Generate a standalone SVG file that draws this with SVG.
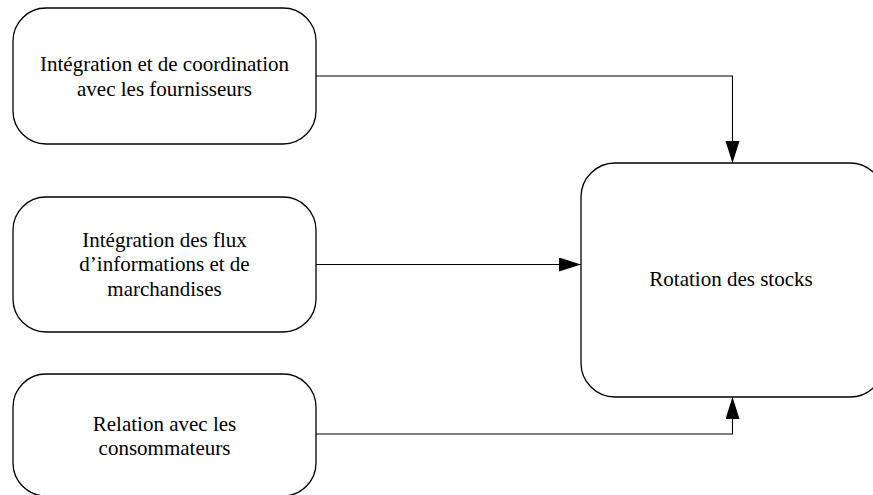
<svg xmlns="http://www.w3.org/2000/svg" width="873" height="495" viewBox="0 0 873 495">
  <style>
    .box { fill: #ffffff; stroke: #000000; stroke-width: 1.3; }
    .lbl { font-family: "Liberation Serif", "Times New Roman", serif; font-size: 21px; fill: #000000; text-anchor: middle; }
    .conn { fill: none; stroke: #000000; stroke-width: 1.1; }
  </style>
  <defs>
    <marker id="arrow" markerUnits="userSpaceOnUse" markerWidth="23" markerHeight="15" refX="22" refY="7" orient="auto">
      <path d="M0,0 L22,7 L0,14 z" fill="#000000"/>
    </marker>
  </defs>
  <rect x="0" y="0" width="873" height="495" fill="#ffffff"/>

  <g id="node-fournisseurs">
    <rect class="box" x="13" y="8" width="303" height="136" rx="33" ry="33"/>
    <text class="lbl" x="164.5" y="71">Intégration et de coordination</text>
    <text class="lbl" x="164.5" y="96">avec les fournisseurs</text>
  </g>

  <g id="node-flux">
    <rect class="box" x="13" y="197" width="303" height="135" rx="33" ry="33"/>
    <text class="lbl" x="164.5" y="246.5">Intégration des flux</text>
    <text class="lbl" x="164.5" y="271">d’informations et de</text>
    <text class="lbl" x="164.5" y="296">marchandises</text>
  </g>

  <g id="node-consommateurs">
    <rect class="box" x="13" y="374" width="303" height="122" rx="33" ry="33"/>
    <text class="lbl" x="164.5" y="431">Relation avec les</text>
    <text class="lbl" x="164.5" y="455">consommateurs</text>
  </g>

  <g id="node-rotation">
    <rect class="box" x="581" y="163" width="303" height="234" rx="34" ry="34"/>
    <text class="lbl" x="731" y="286">Rotation des stocks</text>
  </g>

  <g id="connectors">
    <path class="conn" d="M316,76 H732.5 V163" marker-end="url(#arrow)"/>
    <path class="conn" d="M316,264.5 H581" marker-end="url(#arrow)"/>
    <path class="conn" d="M316,434 H732.5 V397" marker-end="url(#arrow)"/>
  </g>
</svg>
